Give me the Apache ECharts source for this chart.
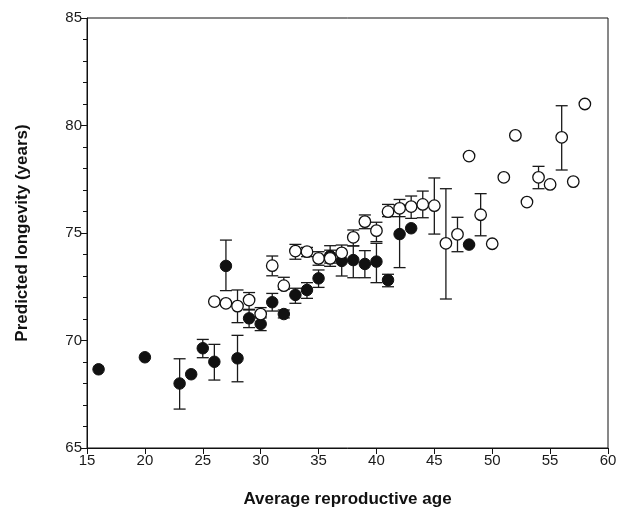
<!DOCTYPE html>
<html>
<head>
<meta charset="utf-8">
<script src="https://cdn.jsdelivr.net/npm/echarts@6/dist/echarts.min.js"></script>
<style>html,body{margin:0;padding:0;background:#fff}#c{width:622px;height:513px}</style>
</head>
<body>
<div id="c"></div>
<script>
// Filled circles
const filledAge  = [16,20,23,24,25,26,27,28,29,30,31,32,33,34,35,36,37,38,39,40,41,42,43,48];
const filledLong = [68.66,69.22,68.0,68.43,69.64,69.01,73.47,69.17,71.03,70.77,71.78,71.23,72.12,72.35,72.89,73.93,73.7,73.74,73.56,73.67,72.81,74.95,75.22,74.46];
const filledHi   = [null,null,69.15,null,70.05,69.82,74.67,70.24,71.45,71.1,72.19,71.42,72.43,72.69,73.28,74.41,74.1,74.4,74.18,74.52,73.08,76.3,null,74.5];
const filledLo   = [null,null,66.81,null,69.2,68.16,72.32,68.08,70.6,70.46,71.37,71.05,71.73,71.96,72.47,73.6,73.0,72.92,72.92,72.69,72.5,73.39,null,74.42];
// Open circles
const openAge  = [26,27,28,29,30,31,32,33,34,35,36,37,38,39,40,41,42,43,44,45,46,47,48,49,50,51,52,53,54,55,56,57,58];
const openLong = [71.81,71.73,71.6,71.88,71.23,73.48,72.55,74.16,74.13,73.82,73.82,74.08,74.8,75.53,75.11,75.99,76.15,76.23,76.33,76.27,74.52,74.94,78.58,75.85,74.5,77.59,79.54,76.44,77.59,77.26,79.45,77.39,81.0];
const openHi   = [null,null,72.35,72.23,71.53,73.93,72.94,74.47,74.33,74.13,74.2,74.44,75.14,75.84,75.5,76.33,76.56,76.72,76.95,77.56,77.06,75.73,null,76.83,null,null,null,null,78.1,null,80.92,null,null];
const openLo   = [null,null,70.83,71.42,71.05,73.01,72.38,73.78,73.9,73.5,73.45,73.7,74.4,75.2,74.6,75.76,75.76,75.68,75.71,74.95,71.93,74.13,null,74.87,null,null,null,null,77.06,null,77.93,null,null];
// Axis ticks
const xTicks = [15,20,25,30,35,40,45,50,55,60];
const yTicks = [65,70,75,80,85];

function errData(xs, hi, lo) {
  const out = [];
  for (let i = 0; i < xs.length; i++) {
    if (hi[i] != null && lo[i] != null) out.push([xs[i], hi[i], lo[i]]);
  }
  return out;
}
function pts(xs, ys) { return xs.map((x, i) => [x, ys[i]]); }

function renderErr(params, api) {
  const x = api.value(0), hi = api.value(1), lo = api.value(2);
  const a = api.coord([x, hi]), b = api.coord([x, lo]);
  const w = 6;
  const st = {stroke: '#1a1a1a', lineWidth: 1.3};
  return {type: 'group', children: [
    {type: 'line', shape: {x1: a[0], y1: a[1], x2: b[0], y2: b[1]}, style: st},
    {type: 'line', shape: {x1: a[0]-w, y1: a[1], x2: a[0]+w, y2: a[1]}, style: st},
    {type: 'line', shape: {x1: b[0]-w, y1: b[1], x2: b[0]+w, y2: b[1]}, style: st}
  ]};
}

const font = 'Liberation Sans, Arial, sans-serif';
const chart = echarts.init(document.getElementById('c'));
chart.setOption({
  animation: false,
  grid: {left: 87, right: 14, top: 18, bottom: 65, show: true, borderColor: '#111', borderWidth: 1, backgroundColor: 'transparent'},
  xAxis: {
    type: 'value', min: xTicks[0], max: xTicks[xTicks.length-1], interval: 5,
    name: 'Average reproductive age', nameLocation: 'middle', nameGap: 43,
    nameTextStyle: {fontFamily: font, fontWeight: 'bold', fontSize: 17, color: '#111'},
    axisLine: {show: true, lineStyle: {color: '#111', width: 1}},
    axisTick: {show: true, length: 6, lineStyle: {color: '#111'}},
    axisLabel: {fontFamily: font, fontSize: 15, color: '#1a1a1a', margin: 5},
    splitLine: {show: false}
  },
  yAxis: {
    type: 'value', min: yTicks[0], max: yTicks[yTicks.length-1], interval: 5,
    name: 'Predicted longevity (years)', nameLocation: 'middle', nameGap: 56,
    nameTextStyle: {fontFamily: font, fontWeight: 'bold', fontSize: 17, color: '#111'},
    axisLine: {show: true, lineStyle: {color: '#111', width: 1}},
    axisTick: {show: true, length: 6, lineStyle: {color: '#111'}},
    minorTick: {show: true, splitNumber: 5, length: 4, lineStyle: {color: '#111'}},
    axisLabel: {fontFamily: font, fontSize: 15, color: '#1a1a1a', margin: 5},
    splitLine: {show: false}
  },
  series: [
    {type: 'custom', renderItem: renderErr, data: errData(filledAge, filledHi, filledLo), encode: {x: 0, y: [1, 2]}, z: 1, silent: true},
    {type: 'custom', renderItem: renderErr, data: errData(openAge, openHi, openLo), encode: {x: 0, y: [1, 2]}, z: 1, silent: true},
    {type: 'scatter', data: pts(filledAge, filledLong), symbol: 'circle', symbolSize: 11.5,
     itemStyle: {color: '#111', borderColor: '#111', borderWidth: 1, opacity: 1}, z: 3},
    {type: 'scatter', data: pts(openAge, openLong), symbol: 'circle', symbolSize: 11.5,
     itemStyle: {color: '#fff', borderColor: '#111', borderWidth: 1.3, opacity: 1}, z: 4}
  ]
});
</script>
</body>
</html>
